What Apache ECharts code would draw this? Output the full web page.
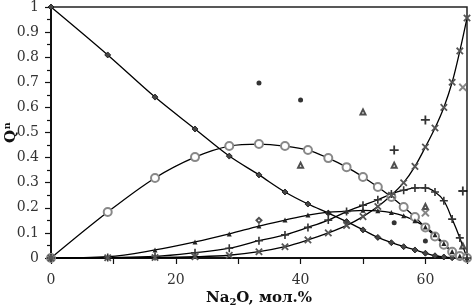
<!DOCTYPE html>
<html>
<head>
<meta charset="utf-8">
<script src="https://cdn.jsdelivr.net/npm/echarts@6/dist/echarts.min.js"></script>
<style>
  html, body { margin: 0; padding: 0; background: #fff; }
  #chart { width: 473px; height: 306px; }
</style>
</head>
<body>
<div id="chart"></div>
<script>
// Na2O content, mol.% (model points)
const na2o = [0, 9.09, 16.67, 23.08, 28.57, 33.33, 37.5, 41.18, 44.44, 47.37, 50,
  52.38, 54.55, 56.52, 58.33, 60, 61.54, 62.96, 64.29, 65.52, 66.67];

// model Q^n fractions
const q4 = [1, 0.809, 0.641, 0.514, 0.406, 0.331, 0.263, 0.215, 0.179, 0.145, 0.112,
  0.082, 0.061, 0.045, 0.032, 0.019, 0.009, 0.004, 0.001, 0, 0];
const q3 = [0, 0.183, 0.319, 0.402, 0.446, 0.454, 0.446, 0.43, 0.398, 0.362, 0.323,
  0.283, 0.243, 0.203, 0.163, 0.122, 0.086, 0.053, 0.025, 0.008, 0];
const q2 = [0, 0.005, 0.032, 0.064, 0.096, 0.127, 0.151, 0.171, 0.183, 0.186, 0.19,
  0.188, 0.181, 0.168, 0.148, 0.124, 0.093, 0.058, 0.026, 0.008, 0];
const q1 = [0, 0.002, 0.006, 0.021, 0.039, 0.069, 0.092, 0.122, 0.151, 0.185, 0.21,
  0.232, 0.255, 0.27, 0.279, 0.279, 0.263, 0.228, 0.155, 0.08, 0];
const q0 = [0, 0.001, 0.002, 0.005, 0.011, 0.025, 0.045, 0.072, 0.1, 0.13, 0.165,
  0.205, 0.25, 0.3, 0.365, 0.442, 0.518, 0.6, 0.7, 0.825, 0.956];

// experimental points
const expQ4 = [[33.33, 0.697], [40, 0.629], [55, 0.14], [60, 0.068]];
const expQ3 = [[50, 0.582], [40, 0.37], [55, 0.37], [60, 0.205], [66, 0.048]];
const expQ1 = [[60, 0.55], [55, 0.43], [66, 0.267]];
const expQ0 = [[66, 0.68], [60, 0.18]];
const expQ2 = [[33.33, 0.15]];

const xTicks = [0, 20, 40, 60];

const FONT = 'DejaVu Serif';
const PLUS = 'path://M4,0H6V4H10V6H6V10H4V6H0V4H4Z';

function pairs(ys) {
  return na2o.map((x, i) => [x, ys[i]]);
}

function model(ys, symbol, size, itemStyle, rotate) {
  return {
    type: 'line',
    data: pairs(ys),
    smooth: 0.35,
    symbol: symbol,
    symbolSize: size,
    symbolRotate: rotate || 0,
    showAllSymbol: true,
    lineStyle: { color: '#000', width: 1.3 },
    itemStyle: itemStyle,
    z: 3
  };
}

function points(data, symbol, size, itemStyle, rotate) {
  return {
    type: 'scatter',
    data: data,
    symbol: symbol,
    symbolSize: size,
    symbolRotate: rotate || 0,
    itemStyle: itemStyle,
    z: 4
  };
}

const chart = echarts.init(document.getElementById('chart'));

chart.setOption({
  animation: false,
  grid: {
    left: 51, right: 6, top: 7, bottom: 48,
    outerBoundsMode: 'none',
    containLabel: false,
    show: true, borderColor: '#222', borderWidth: 1.5, backgroundColor: 'transparent'
  },
  xAxis: {
    type: 'value',
    min: 0,
    max: 66.67,
    interval: 10,
    name: 'Na{s|2}O, мол.%',
    nameLocation: 'middle',
    nameGap: 31,
    nameMoveOverlap: false,
    nameTextStyle: {
      fontFamily: FONT, fontSize: 15, fontWeight: 'bold', color: '#111',
      rich: { s: { fontFamily: FONT, fontSize: 10, fontWeight: 'bold', color: '#111', padding: [8, 0, 0, 0] } }
    },
    axisLine: { lineStyle: { color: '#111', width: 2 } },
    axisTick: { show: true, inside: false, length: 6, lineStyle: { color: '#111', width: 1.2 } },
    axisLabel: {
      margin: 15, fontFamily: FONT, fontSize: 14, color: '#333',
      formatter: v => (xTicks.includes(v) ? String(v) : '')
    },
    splitLine: { show: false }
  },
  yAxis: {
    type: 'value',
    min: 0,
    max: 1,
    interval: 0.1,
    name: 'Qⁿ',
    nameLocation: 'middle',
    nameRotate: 90,
    nameGap: 32,
    nameMoveOverlap: false,
    nameTextStyle: { fontFamily: FONT, fontSize: 15, fontWeight: 'bold', color: '#111' },
    axisLine: { lineStyle: { color: '#111', width: 2 } },
    axisTick: { show: true, inside: false, length: 6, lineStyle: { color: '#111', width: 1.2 } },
    minorTick: { show: true, splitNumber: 2, length: 4, lineStyle: { color: '#111', width: 1.2 } },
    axisLabel: {
      margin: 12, fontFamily: FONT, fontSize: 14, color: '#333',
      formatter: v => String(Math.round(v * 10) / 10)
    },
    splitLine: { show: false }
  },
  series: [
    model(q4, 'diamond', 6, { color: '#444', borderColor: '#111', borderWidth: 0.8 }),
    model(q3, 'emptyCircle', 8, { color: '#888', borderWidth: 1 }),
    model(q2, 'triangle', 5, { color: '#222' }),
    model(q1, PLUS, 8, { color: '#333' }),
    model(q0, PLUS, 9, { color: '#555' }, 45),
    points(expQ4, 'circle', 5, { color: '#000' }),
    points(expQ3, 'emptyTriangle', 5, { color: '#222', borderWidth: 1 }),
    points(expQ1, PLUS, 9, { color: '#000' }),
    points(expQ0, PLUS, 10, { color: '#666' }, 45),
    points(expQ2, 'emptyDiamond', 5, { color: '#222', borderWidth: 1.2 })
  ]
});
</script>
</body>
</html>
